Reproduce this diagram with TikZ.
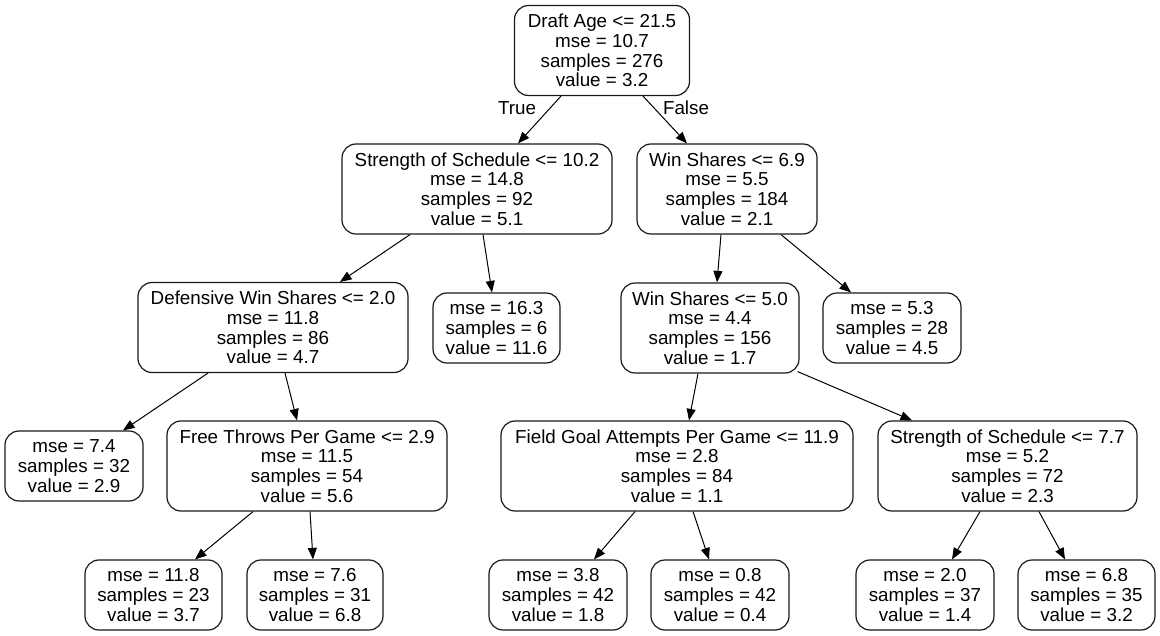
\documentclass[tikz,border=0pt]{standalone}
\usepackage{fontspec}
\setmainfont{Liberation Sans}
\usetikzlibrary{arrows.meta}
\begin{document}
\begin{tikzpicture}[x=1pt,y=-1pt,
  box/.style={draw=black!90,line width=1.2pt,rounded corners=14pt,fill=white,
    align=center,inner sep=0pt,
    font=\fontsize{18.8}{19.7}\selectfont},
  split/.style={box,minimum height=90pt},
  leaf/.style={box,minimum height=70pt,minimum width=138pt},
  edge/.style={draw=black,line width=1pt,-{Triangle[length=11.5pt,width=9pt]}},
  lbl/.style={font=\fontsize{18.8}{19.7}\selectfont,inner sep=0pt}]
\useasboundingbox (0,0) rectangle (1160,636);
\fill[white] (0,0) rectangle (1160,636);

% internal (split) nodes
\node[split,minimum width=175pt] (root) at (602,50.5) {Draft Age <= 21.5\\mse = 10.7\\samples = 276\\value = 3.2};
\node[split,minimum width=270pt] (sosA) at (477,189) {Strength of Schedule <= 10.2\\mse = 14.8\\samples = 92\\value = 5.1};
\node[split,minimum width=180pt] (wsA) at (727,189) {Win Shares <= 6.9\\mse = 5.5\\samples = 184\\value = 2.1};
\node[split,minimum width=270pt] (dws) at (273,327.5) {Defensive Win Shares <= 2.0\\mse = 11.8\\samples = 86\\value = 4.7};
\node[split,minimum width=178pt] (wsB) at (710,328) {Win Shares <= 5.0\\mse = 4.4\\samples = 156\\value = 1.7};
\node[split,minimum width=280pt] (ft) at (307,466) {Free Throws Per Game <= 2.9\\mse = 11.5\\samples = 54\\value = 5.6};
\node[split,minimum width=352pt] (fga) at (677,466) {Field Goal Attempts Per Game <= 11.9\\mse = 2.8\\samples = 84\\value = 1.1};
\node[split,minimum width=259pt] (sosB) at (1007.5,466) {Strength of Schedule <= 7.7\\mse = 5.2\\samples = 72\\value = 2.3};

% leaves
\node[leaf,minimum width=127pt] (l163) at (496.5,328) {mse = 16.3\\samples = 6\\value = 11.6};
\node[leaf] (l53) at (892,328) {mse = 5.3\\samples = 28\\value = 4.5};
\node[leaf] (l74) at (74,466) {mse = 7.4\\samples = 32\\value = 2.9};
\node[leaf,minimum width=137pt] (l118) at (153.5,595) {mse = 11.8\\samples = 23\\value = 3.7};
\node[leaf,minimum width=136pt] (l76) at (315,595) {mse = 7.6\\samples = 31\\value = 6.8};
\node[leaf] (l38) at (558,595) {mse = 3.8\\samples = 42\\value = 1.8};
\node[leaf] (l08) at (720,595) {mse = 0.8\\samples = 42\\value = 0.4};
\node[leaf] (l20) at (925,595) {mse = 2.0\\samples = 37\\value = 1.4};
\node[leaf,minimum width=137pt] (l68) at (1086.5,595) {mse = 6.8\\samples = 35\\value = 3.2};

% branch labels
\node[lbl] (tlab) at (517,108) {True};
\node[lbl] (flab) at (686,108) {False};

% connectors
\draw[edge] ([xshift=-41pt]root.south) -- ([xshift=41pt]sosA.north);
\draw[edge] ([xshift=41pt]root.south) -- ([xshift=-40pt]wsA.north);
\draw[edge] ([xshift=-67pt]sosA.south) -- ([xshift=67pt]dws.north);
\draw[edge] ([xshift=6pt]sosA.south) -- ([xshift=-4.5pt]l163.north);
\draw[edge] ([xshift=-6pt]wsA.south) -- ([xshift=7pt]wsB.north);
\draw[edge] ([xshift=54pt]wsA.south) -- ([xshift=-41pt]l53.north);
\draw[edge] ([xshift=-65pt]dws.south) -- ([xshift=49pt]l74.north);
\draw[edge] ([xshift=12pt]dws.south) -- ([xshift=-10pt]ft.north);
\draw[edge] ([xshift=-12pt]wsB.south) -- ([xshift=12pt]fga.north);
\draw[edge] ([xshift=-2pt,yshift=2pt]wsB.south east) -- ([xshift=-95.5pt]sosB.north);
\draw[edge] ([xshift=-54pt]ft.south) -- ([xshift=41.5pt]l118.north);
\draw[edge] ([xshift=3pt]ft.south) -- ([xshift=-2pt]l76.north);
\draw[edge] ([xshift=-42pt]fga.south) -- ([xshift=36pt]l38.north);
\draw[edge] ([xshift=16pt]fga.south) -- ([xshift=-11pt]l08.north);
\draw[edge] ([xshift=-27.5pt]sosB.south) -- ([xshift=27pt]l20.north);
\draw[edge] ([xshift=31.5pt]sosB.south) -- ([xshift=-21.5pt]l68.north);
\end{tikzpicture}
\end{document}
